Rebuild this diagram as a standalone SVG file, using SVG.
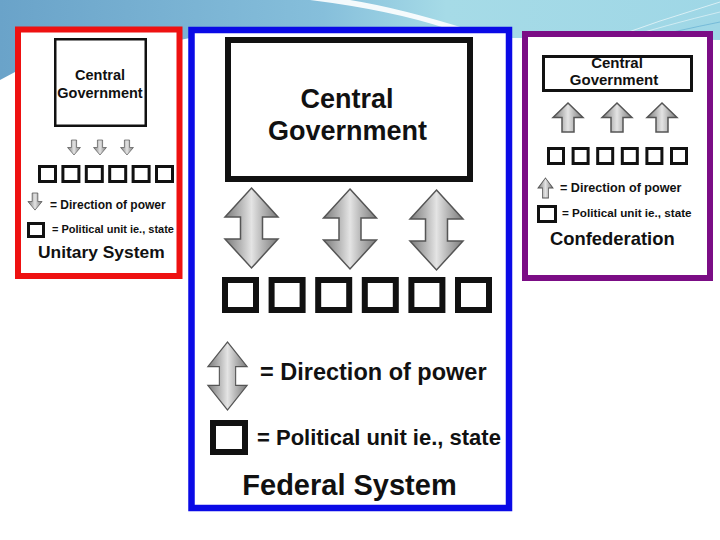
<svg xmlns="http://www.w3.org/2000/svg" xmlns:xlink="http://www.w3.org/1999/xlink" width="720" height="540" viewBox="0 0 720 540">
<defs>
<linearGradient id="bg" x1="0" y1="0" x2="720" y2="0" gradientUnits="userSpaceOnUse">
<stop offset="0" stop-color="#6aa3c9"/>
<stop offset="0.45" stop-color="#86bfdb"/>
<stop offset="0.62" stop-color="#a6dbe7"/>
<stop offset="1" stop-color="#9fd7e6"/>
</linearGradient>
<linearGradient id="ag" x1="0" y1="0" x2="1" y2="0">
<stop offset="0" stop-color="#7a7a7a"/>
<stop offset="0.3" stop-color="#b8b8b8"/>
<stop offset="0.5" stop-color="#e4e4e4"/>
<stop offset="0.7" stop-color="#b8b8b8"/>
<stop offset="1" stop-color="#7a7a7a"/>
</linearGradient>
<path id="dbl" d="M0,0 L26.5,29 L11,29 L11,51 L26.5,51 L0,80 L-26.5,51 L-11,51 L-11,29 L-26.5,29 Z"/>
<path id="down" d="M-6,0 H6 V15 H15 L0,30 L-15,15 H-6 Z"/>
<path id="up" d="M0,0 L15,15 H6 V30 H-6 V15 H-15 Z"/>
</defs>
<style>
.panel{fill:#ffffff}
.box{fill:#ffffff;stroke:#111111}
.arr{fill:url(#ag);stroke:#555555;stroke-width:1.5;vector-effect:non-scaling-stroke}
.sq{fill:#ffffff;stroke:#111111}
text{font-family:"Liberation Sans",Arial,sans-serif;font-weight:bold;fill:#111111}
.c{text-anchor:middle}
</style>
<g id="background">
<rect x="0" y="0" width="720" height="540" fill="#ffffff"/>
<path d="M0,0 H720 V40 L520,38 L190,38 L15,72 L0,80 Z" fill="url(#bg)"/>
<path d="M310,0 Q390,10 445,28 L470,30 Q400,8 350,0 Z" fill="#ffffff" opacity="0.9"/>
<path d="M600,42 Q660,20 720,2" fill="none" stroke="#ffffff" stroke-width="1" opacity="0.6"/>
<path d="M610,42 Q670,24 720,12" fill="none" stroke="#ffffff" stroke-width="1" opacity="0.5"/>
<path d="M630,42 Q680,30 720,22" fill="none" stroke="#5aa8d0" stroke-width="1" opacity="0.6"/>
</g>
<g id="unitary">
<rect class="panel" x="18" y="29.5" width="161.5" height="246.5" stroke="#ee1111" stroke-width="6"/>
<rect class="box" x="55.25" y="39.25" width="90.5" height="86.5" stroke-width="2.5"/>
<text class="c" x="100" y="80" font-size="14.5">Central</text>
<text class="c" x="100" y="98" font-size="14.5">Government</text>
<use href="#down" class="arr" transform="translate(74,140) scale(0.43,0.5)"/>
<use href="#down" class="arr" transform="translate(100,140) scale(0.43,0.5)"/>
<use href="#down" class="arr" transform="translate(127,140) scale(0.43,0.5)"/>
<g stroke-width="3">
<rect class="sq" x="39.5" y="166.5" width="16" height="15"/>
<rect class="sq" x="62.9" y="166.5" width="16" height="15"/>
<rect class="sq" x="86.3" y="166.5" width="16" height="15"/>
<rect class="sq" x="109.7" y="166.5" width="16" height="15"/>
<rect class="sq" x="133.1" y="166.5" width="16" height="15"/>
<rect class="sq" x="156.5" y="166.5" width="16" height="15"/>
<rect class="sq" x="28.5" y="223.5" width="15" height="13"/>
</g>
<use href="#down" class="arr" transform="translate(35,193) scale(0.47,0.57)"/>
<text x="50" y="208.5" font-size="12">= Direction of power</text>
<text x="52" y="233" font-size="11">= Political unit ie., state</text>
<text x="38" y="258" font-size="17.4">Unitary System</text>
</g>
<g id="federal">
<rect class="panel" x="191.5" y="30" width="317.5" height="478" stroke="#0a0ae6" stroke-width="6.5"/>
<rect class="box" x="228" y="40" width="242" height="139" stroke-width="6"/>
<text class="c" x="347" y="108" font-size="27">Central</text>
<text class="c" x="347.5" y="140" font-size="27">Government</text>
<use href="#dbl" class="arr" transform="translate(251.5,188)"/>
<use href="#dbl" class="arr" transform="translate(350,189)"/>
<use href="#dbl" class="arr" transform="translate(436.5,190)"/>
<g stroke-width="6">
<rect class="sq" x="225" y="280" width="31" height="30"/>
<rect class="sq" x="271.6" y="280" width="31" height="30"/>
<rect class="sq" x="318.2" y="280" width="31" height="30"/>
<rect class="sq" x="364.8" y="280" width="31" height="30"/>
<rect class="sq" x="411.4" y="280" width="31" height="30"/>
<rect class="sq" x="458" y="280" width="31" height="30"/>
<rect class="sq" x="213" y="423" width="32" height="29"/>
</g>
<use href="#dbl" class="arr" transform="translate(227.5,342) scale(0.74,0.85)"/>
<text x="260" y="380" font-size="23.5">= Direction of power</text>
<text x="257" y="445" font-size="22">= Political unit ie., state</text>
<text class="c" x="349.5" y="495" font-size="29">Federal System</text>
</g>
<g id="confederation">
<rect class="panel" x="525" y="34" width="185" height="244" stroke="#7b0d85" stroke-width="6"/>
<rect class="box" x="543.5" y="56.5" width="148" height="34" stroke-width="3"/>
<text class="c" x="617" y="68" font-size="15">Central</text>
<text class="c" x="614" y="85" font-size="15">Government</text>
<use href="#up" class="arr" transform="translate(568,103) scale(1,0.97)"/>
<use href="#up" class="arr" transform="translate(617,103) scale(1,0.97)"/>
<use href="#up" class="arr" transform="translate(662,103) scale(1,0.97)"/>
<g stroke-width="3">
<rect class="sq" x="548.5" y="148.5" width="15" height="15"/>
<rect class="sq" x="573.1" y="148.5" width="15" height="15"/>
<rect class="sq" x="597.7" y="148.5" width="15" height="15"/>
<rect class="sq" x="622.3" y="148.5" width="15" height="15"/>
<rect class="sq" x="646.9" y="148.5" width="15" height="15"/>
<rect class="sq" x="671.5" y="148.5" width="15" height="15"/>
<rect class="sq" x="538.5" y="206.5" width="17" height="15"/>
</g>
<use href="#up" class="arr" transform="translate(545.5,178) scale(0.5,0.67)"/>
<text x="560" y="192" font-size="12.6">= Direction of power</text>
<text x="562" y="217" font-size="11.7">= Political unit ie., state</text>
<text x="550" y="245" font-size="18.4">Confederation</text>
</g>
</svg>
